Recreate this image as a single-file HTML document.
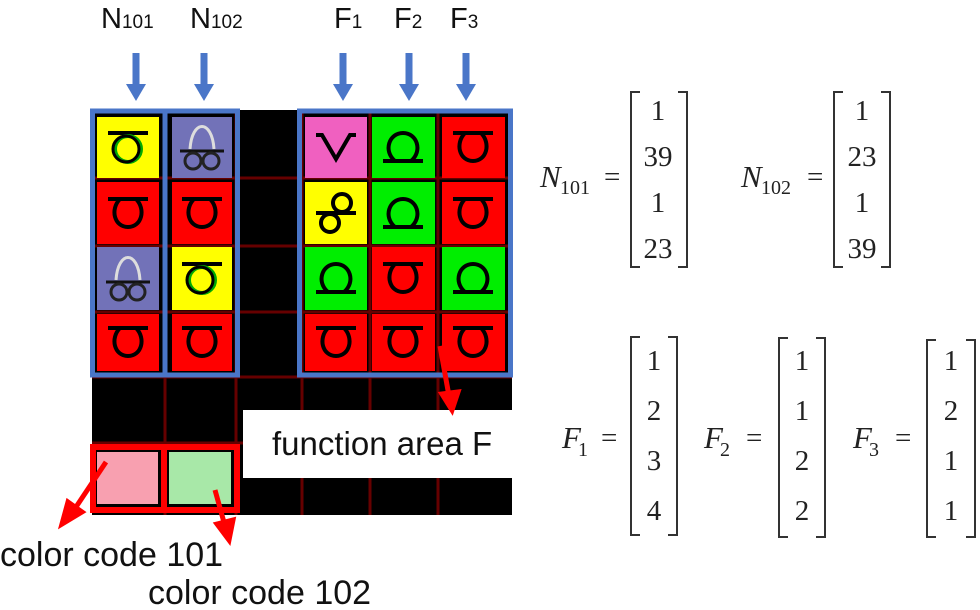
<!DOCTYPE html>
<html><head><meta charset="utf-8"><style>
body{margin:0;background:#fff;width:980px;height:610px;overflow:hidden}
svg{display:block}
.lab{font-family:"Liberation Sans",sans-serif;font-size:29px;fill:#111}
.sub{font-size:19px}
.m{font-family:"Liberation Serif",serif;font-size:29px;fill:#222}
.mi{font-family:"Liberation Serif",serif;font-size:31px;font-style:italic;fill:#222}
.ms{font-family:"Liberation Serif",serif;font-size:20px;fill:#222}
</style></head><body>
<svg width="980" height="610" viewBox="0 0 980 610">
<defs>
<g id="tau"><path d="M-20,-14 H20 M-8,-14 C-18,-4 -14,14 0,14 C14,14 18,-4 8,-14" fill="none" stroke="#000" stroke-width="4"/></g>
<g id="om"><path d="M-20,14 H20 M-8,14 C-20,4 -14,-14 0,-14 C14,-14 20,4 8,14" fill="none" stroke="#000" stroke-width="4"/></g>
<g id="vv"><path d="M-20,-12 H-14 L0,12 L14,-12 H20" fill="none" stroke="#000" stroke-width="4"/></g>
<g id="arc"><path d="M-12,2 C-10,-28 10,-28 12,2" fill="none" stroke="#ddd" stroke-width="3"/><path d="M-22,4 H22" stroke="#111" stroke-width="3"/><circle cx="-9" cy="14" r="8" fill="none" stroke="#222" stroke-width="3"/><circle cx="9" cy="14" r="8" fill="none" stroke="#222" stroke-width="3"/></g>
<g id="ring"><path d="M-20,-14 H20" stroke="#000" stroke-width="4"/><circle cx="0" cy="2" r="13" fill="none" stroke="#0a0" stroke-width="4"/><circle cx="-2" cy="2" r="13" fill="none" stroke="#000" stroke-width="3"/></g>
<g id="eight"><circle cx="-6" cy="10" r="9" fill="none" stroke="#000" stroke-width="4"/><circle cx="6" cy="-10" r="9" fill="none" stroke="#000" stroke-width="4"/><path d="M-20,0 H20" stroke="#000" stroke-width="4"/></g>
<g id="ba" fill="#4a76c8"><rect x="-3.5" y="53" width="7" height="33"/><polygon points="-10,84 10,84 0,101"/></g>
</defs>
<rect x="92" y="110" width="420" height="405" fill="#000"/>
<g stroke="#600" stroke-width="3">
<path d="M92,178 H512 M92,246 H512 M92,312 H512 M92,377 H512 M92,443 H512 M165,110 V515 M236,110 V515 M302,110 V515 M370,110 V515 M438,110 V515"/>
</g>
<rect x="97" y="117" width="62" height="61" fill="#ff0"/><use href="#ring" x="128" y="147"/>
<rect x="172" y="117" width="60" height="61" fill="#7272b8"/><use href="#arc" x="202" y="147"/>
<rect x="97" y="182" width="62" height="62" fill="#f00"/><use href="#tau" x="128" y="213"/>
<rect x="172" y="182" width="60" height="62" fill="#f00"/><use href="#tau" x="202" y="213"/>
<rect x="97" y="247" width="62" height="63" fill="#7272b8"/><use href="#arc" x="128" y="278"/>
<rect x="172" y="247" width="60" height="63" fill="#ff0"/><use href="#ring" x="202" y="278"/>
<rect x="97" y="314" width="62" height="57" fill="#f00"/><use href="#tau" x="128" y="342"/>
<rect x="172" y="314" width="60" height="57" fill="#f00"/><use href="#tau" x="202" y="342"/>
<rect x="305" y="117" width="62" height="61" fill="#f060c0"/><use href="#vv" x="336" y="147"/>
<rect x="372" y="117" width="63" height="61" fill="#0e0"/><use href="#om" x="403" y="147"/>
<rect x="442" y="117" width="63" height="61" fill="#f00"/><use href="#tau" x="473" y="147"/>
<rect x="305" y="182" width="62" height="62" fill="#ff0"/><use href="#eight" x="336" y="213"/>
<rect x="372" y="182" width="63" height="62" fill="#0e0"/><use href="#om" x="403" y="213"/>
<rect x="442" y="182" width="63" height="62" fill="#f00"/><use href="#tau" x="473" y="213"/>
<rect x="305" y="247" width="62" height="63" fill="#0e0"/><use href="#om" x="336" y="278"/>
<rect x="372" y="247" width="63" height="63" fill="#f00"/><use href="#tau" x="403" y="278"/>
<rect x="442" y="247" width="63" height="63" fill="#0e0"/><use href="#om" x="473" y="278"/>
<rect x="305" y="314" width="62" height="57" fill="#f00"/><use href="#tau" x="336" y="342"/>
<rect x="372" y="314" width="63" height="57" fill="#f00"/><use href="#tau" x="403" y="342"/>
<rect x="442" y="314" width="63" height="57" fill="#f00"/><use href="#tau" x="473" y="342"/>
<rect x="92.5" y="111" width="145" height="264" fill="none" stroke="#4a76c8" stroke-width="5"/>
<path d="M165,111 V375" stroke="#4a76c8" stroke-width="5"/>
<rect x="299.5" y="111" width="211" height="264" fill="none" stroke="#4a76c8" stroke-width="5"/>
<rect x="243" y="410" width="275" height="68" fill="#fff"/>
<text x="272" y="455" class="lab" style="font-size:33px">function area F</text>
<rect x="93" y="447" width="144" height="63" fill="none" stroke="#f00" stroke-width="6"/>
<path d="M164,447 V510" stroke="#f00" stroke-width="6"/>
<rect x="97" y="452" width="61" height="52" fill="#f8a0b0"/>
<rect x="169" y="452" width="62" height="52" fill="#a8e8a8"/>
<g stroke="#f00" stroke-width="5" fill="#f00">
<path d="M440,346 L449,396"/><polygon points="442,394 458,392 452,410"/>
<path d="M106,462 L74,510"/><polygon points="68,502 82,512 62,524"/>
<path d="M215,490 L225,526"/><polygon points="217,524 233,520 229,540"/>
</g>
<use href="#ba" x="136"/><use href="#ba" x="204"/><use href="#ba" x="343"/><use href="#ba" x="409"/><use href="#ba" x="466"/>
<text x="101" y="28" class="lab">N<tspan class="sub">101</tspan></text>
<text x="190" y="28" class="lab">N<tspan class="sub">102</tspan></text>
<text x="334" y="28" class="lab">F<tspan class="sub">1</tspan></text>
<text x="394" y="28" class="lab">F<tspan class="sub">2</tspan></text>
<text x="450" y="28" class="lab">F<tspan class="sub">3</tspan></text>
<text x="0" y="566" class="lab" style="font-size:34px">color code 101</text>
<text x="148" y="604" class="lab" style="font-size:34px">color code 102</text>
<g stroke="#333" stroke-width="2" fill="none">
<path d="M640,92 H631 V267 H640 M678,92 H687 V267 H678"/>
<path d="M843,92 H834 V267 H843 M881,92 H890 V267 H881"/>
<path d="M640,337 H631 V535 H640 M668,337 H677 V535 H668"/>
<path d="M788,338 H779 V537 H788 M816,338 H825 V537 H816"/>
<path d="M936,340 H927 V537 H936 M966,340 H975 V537 H966"/>
</g>
<text x="540" y="187" class="mi">N</text><text x="560" y="194" class="ms">101</text><text x="604" y="186" class="m">=</text>
<text x="741" y="187" class="mi">N</text><text x="761" y="194" class="ms">102</text><text x="807" y="186" class="m">=</text>
<g class="m" text-anchor="middle">
<text x="658" y="120">1</text><text x="658" y="166">39</text><text x="658" y="212">1</text><text x="658" y="258">23</text>
<text x="862" y="120">1</text><text x="862" y="166">23</text><text x="862" y="212">1</text><text x="862" y="258">39</text>
<text x="654" y="370">1</text><text x="654" y="420">2</text><text x="654" y="470">3</text><text x="654" y="520">4</text>
<text x="802" y="370">1</text><text x="802" y="420">1</text><text x="802" y="470">2</text><text x="802" y="520">2</text>
<text x="951" y="370">1</text><text x="951" y="420">2</text><text x="951" y="470">1</text><text x="951" y="520">1</text>
</g>
<text x="562" y="448" class="mi">F</text><text x="578" y="456" class="ms">1</text><text x="601" y="447" class="m">=</text>
<text x="704" y="448" class="mi">F</text><text x="720" y="456" class="ms">2</text><text x="746" y="447" class="m">=</text>
<text x="853" y="448" class="mi">F</text><text x="869" y="456" class="ms">3</text><text x="895" y="447" class="m">=</text>
</svg>
</body></html>
